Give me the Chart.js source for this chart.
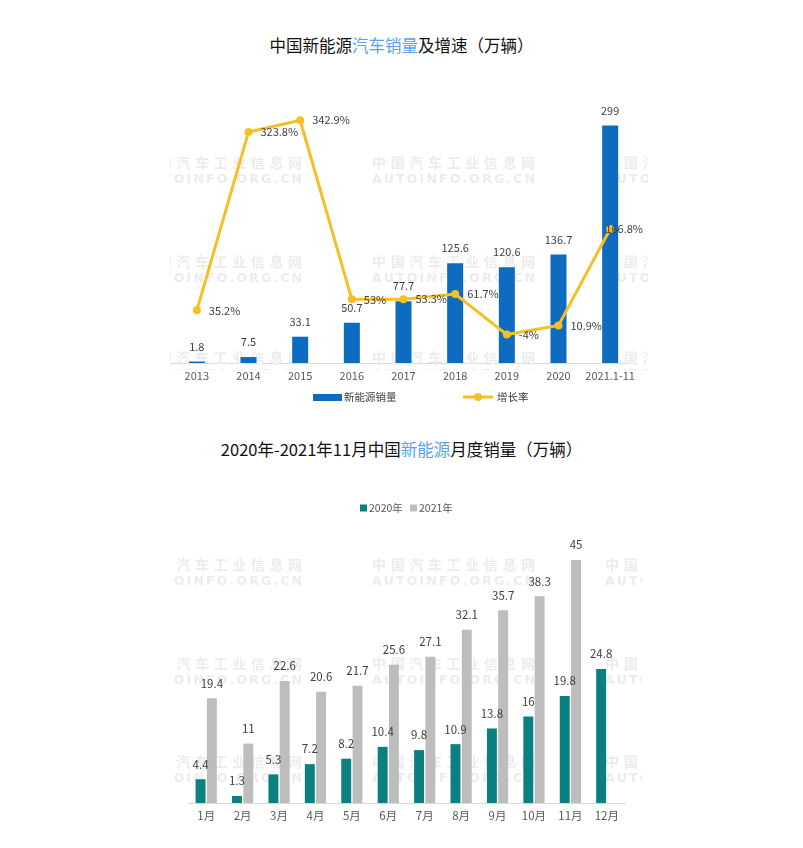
<!DOCTYPE html>
<html>
<head>
<meta charset="utf-8">
<script src="https://cdn.jsdelivr.net/npm/chart.js@4"></script>
<style>
  body { margin: 0; background: #fff; }
  #wrap { position: relative; width: 803px; height: 848px; font-family: "Noto Sans CJK SC", "Noto Sans", sans-serif; }
  .title { position: absolute; left: 0; width: 803px; text-align: center; font-size: 16.5px; color: #111; line-height: 20px; }
  .title .hl { color: #5b9ff0; }
  #c1 { position: absolute; left: 0; top: 70px; }
  #c2 { position: absolute; left: 0; top: 480px; }
</style>
</head>
<body>
<div id="wrap">
  <div class="title" style="top:35px">中国新能源<span class="hl">汽车销量</span>及增速（万辆）</div>
  <canvas id="c1" width="803" height="350"></canvas>
  <div class="title" style="top:439px">2020年-2021年11月中国<span class="hl">新能源</span>月度销量（万辆）</div>
  <canvas id="c2" width="803" height="368"></canvas>
</div>
<script>
const years = ['2013', '2014', '2015', '2016', '2017', '2018', '2019', '2020', '2021.1-11'];
const sales = [1.8, 7.5, 33.1, 50.7, 77.7, 125.6, 120.6, 136.7, 299];
const growth = [35.2, 323.8, 342.9, 53, 53.3, 61.7, -4, 10.9, 166.8];

const months = ['1月', '2月', '3月', '4月', '5月', '6月', '7月', '8月', '9月', '10月', '11月', '12月'];
const sales2020 = [4.4, 1.3, 5.3, 7.2, 8.2, 10.4, 9.8, 10.9, 13.8, 16, 19.8, 24.8];
const sales2021 = [19.4, 11, 22.6, 20.6, 21.7, 25.6, 27.1, 32.1, 35.7, 38.3, 45, null];

const FONT = '"Noto Sans CJK SC", "Noto Sans", sans-serif';
const BLUE = '#0d6bc0', YELLOW = '#f5c026', TEAL = '#0b8080', GRAY = '#bdbdbd';

// spread text evenly over a given width
function spreadText(ctx, text, x0, y, width) {
  let total = 0;
  for (const ch of text) total += ctx.measureText(ch).width;
  const gap = (width - total) / (text.length - 1);
  let x = x0;
  for (const ch of text) {
    ctx.fillText(ch, x, y);
    x += ctx.measureText(ch).width + gap;
  }
}

function drawWatermark(ctx, area, rows) {
  ctx.save();
  ctx.beginPath();
  ctx.rect(area.left, area.top, area.right - area.left, area.bottom - area.top);
  ctx.clip();
  ctx.fillStyle = '#ececec';
  ctx.textBaseline = 'middle';
  ctx.textAlign = 'left';
  rows.forEach(y => {
    [139, 372, 605].forEach(x0 => {
      ctx.font = 'bold 14px ' + FONT;
      spreadText(ctx, '中国汽车工业信息网', x0, y, 163);
      ctx.font = 'bold 12.5px "DejaVu Sans", sans-serif';
      spreadText(ctx, 'AUTOINFO.ORG.CN', x0, y + 17, 163);
    });
  });
  ctx.restore();
}

// chart 1: bars + growth line
const plugin1 = {
  id: 'extras1',
  beforeDatasetsDraw(chart) {
    drawWatermark(chart.ctx, { left: 170, right: 648, top: 80, bottom: 300 }, [93, 192, 288]);
  },
  afterDatasetsDraw(chart) {
    const ctx = chart.ctx;
    ctx.save();
    ctx.font = '11px ' + FONT;
    ctx.fillStyle = '#404040';
    ctx.textBaseline = 'middle';
    ctx.textAlign = 'center';
    chart.getDatasetMeta(0).data.forEach((el, i) => {
      ctx.fillText(String(sales[i]), el.x, el.y - 15);
    });
    ctx.textAlign = 'left';
    chart.getDatasetMeta(1).data.forEach((el, i) => {
      const t = growth[i] + '%';
      const w = ctx.measureText(t).width;
      const x = Math.min(el.x + 12, 643 - w);
      ctx.fillText(t, x, el.y);
    });
    // legend
    const ly = 327;
    ctx.fillStyle = BLUE;
    ctx.fillRect(313, ly - 3, 29, 7);
    ctx.fillStyle = '#404040';
    ctx.font = '10.5px ' + FONT;
    ctx.fillText('新能源销量', 344, ly);
    ctx.strokeStyle = YELLOW;
    ctx.lineWidth = 3;
    ctx.beginPath();
    ctx.moveTo(463, ly); ctx.lineTo(493, ly); ctx.stroke();
    ctx.fillStyle = YELLOW;
    ctx.beginPath(); ctx.arc(478, ly, 4, 0, Math.PI * 2); ctx.fill();
    ctx.fillStyle = '#404040';
    ctx.fillText('增长率', 497, ly);
    ctx.restore();
  }
};

new Chart(document.getElementById('c1'), {
  data: {
    labels: years,
    datasets: [{
      type: 'bar',
      label: '新能源销量',
      data: sales,
      backgroundColor: BLUE,
      barPercentage: 0.31,
      categoryPercentage: 1,
      yAxisID: 'y',
      order: 2
    }, {
      type: 'line',
      label: '增长率',
      data: growth,
      borderColor: YELLOW,
      backgroundColor: YELLOW,
      borderWidth: 3,
      pointRadius: 4,
      pointBackgroundColor: YELLOW,
      pointBorderWidth: 0,
      tension: 0,
      yAxisID: 'y1',
      order: 1
    }]
  },
  options: {
    responsive: false,
    animation: false,
    layout: { padding: { left: 171, right: 167, top: 15, bottom: 0 } },
    plugins: { legend: { display: false }, tooltip: { enabled: false } },
    scales: {
      x: {
        grid: { display: false, drawTicks: false },
        border: { color: '#d9d9d9', width: 1 },
        ticks: { color: '#595959', font: { size: 11, family: FONT }, padding: 6, maxRotation: 0, autoSkip: false },
        afterFit(scale) { scale.height = 57; }
      },
      y: { display: false, min: 0, max: 350 },
      y1: { display: false, min: -50, max: 400 }
    }
  },
  plugins: [plugin1]
});

// chart 2: monthly sales
const plugin2 = {
  id: 'extras2',
  beforeDatasetsDraw(chart) {
    drawWatermark(chart.ctx, { left: 172, right: 642, top: 70, bottom: 310 }, [85, 184, 282]);
  },
  afterDatasetsDraw(chart) {
    const ctx = chart.ctx;
    ctx.save();
    ctx.font = '11.5px ' + FONT;
    ctx.fillStyle = '#404040';
    ctx.textBaseline = 'middle';
    ctx.textAlign = 'center';
    [sales2020, sales2021].forEach((arr, d) => {
      chart.getDatasetMeta(d).data.forEach((el, i) => {
        if (arr[i] == null) return;
        ctx.fillText(String(arr[i]), el.x, el.y - 15);
      });
    });
    // legend
    const ly = 28;
    ctx.font = '10.5px ' + FONT;
    ctx.textAlign = 'left';
    ctx.fillStyle = TEAL;
    ctx.fillRect(360, ly - 3.5, 7, 7);
    ctx.fillStyle = '#595959';
    ctx.fillText('2020年', 369, ly);
    ctx.fillStyle = GRAY;
    ctx.fillRect(410, ly - 3.5, 7, 7);
    ctx.fillStyle = '#595959';
    ctx.fillText('2021年', 419, ly);
    ctx.restore();
  }
};

new Chart(document.getElementById('c2'), {
  type: 'bar',
  data: {
    labels: months,
    datasets: [
      { label: '2020年', data: sales2020, backgroundColor: TEAL },
      { label: '2021年', data: sales2021, backgroundColor: GRAY }
    ]
  },
  options: {
    responsive: false,
    animation: false,
    datasets: { bar: { categoryPercentage: 0.62, barPercentage: 0.88 } },
    layout: { padding: { left: 188, right: 178, top: 53, bottom: 0 } },
    plugins: { legend: { display: false }, tooltip: { enabled: false } },
    scales: {
      x: {
        grid: { display: false, drawTicks: false },
        border: { color: '#d9d9d9', width: 1 },
        ticks: { color: '#595959', font: { size: 11.5, family: FONT }, padding: 6, maxRotation: 0, autoSkip: false },
        afterFit(scale) { scale.height = 45; }
      },
      y: { display: false, min: 0, max: 50 }
    }
  },
  plugins: [plugin2]
});
</script>
</body>
</html>
